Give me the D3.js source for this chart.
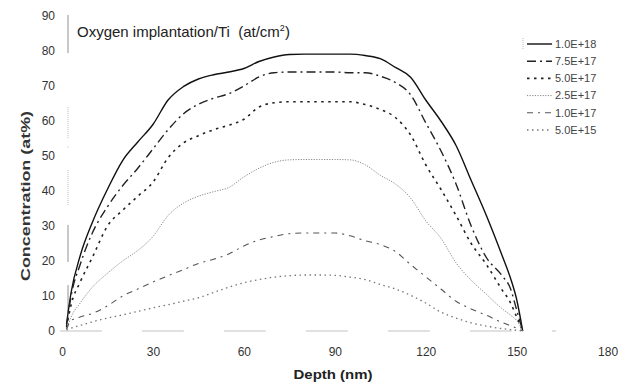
<!DOCTYPE html>
<html>
<head>
<meta charset="utf-8">
<script src="https://cdn.jsdelivr.net/npm/d3@7"></script>
<style>
  html, body { margin: 0; padding: 0; background: #fff; }
  svg { display: block; font-family: "Liberation Sans", Arial, sans-serif; }
</style>
</head>
<body>
<svg id="chart"></svg>
<script>
const width = 634;
const height = 387;

// --- Data ---
const depths = [1.5, 3, 6, 10, 15, 20, 25, 30, 35, 40, 45, 50, 55, 60, 65, 70, 75, 80, 85, 90,
  95, 100, 105, 110, 115, 120, 125, 130, 135, 140, 145, 148, 150, 152];

const doses = ["1.0E+18", "7.5E+17", "5.0E+17", "2.5E+17", "1.0E+17", "5.0E+15"];

const conc_1e18 = [2, 11, 21.5, 31, 40.5, 48.7, 54, 59, 66, 69.8, 72, 73.2, 74, 75, 77, 78.3, 79, 79.1, 79.1, 79.1,
  79.1, 78.7, 77.8, 75.3, 72.5, 66, 60, 53, 43, 33, 22, 15, 9, 0];
const conc_75e17 = [1.5, 10, 19, 28, 35.5, 41.5, 46.5, 52, 57.5, 62, 64.8, 66.5, 67.8, 70, 72.6, 73.8, 74, 74, 74, 74,
  73.8, 73.8, 72.8, 71, 67.5, 59.5, 51.5, 42, 30, 21, 16, 12, 6, 0];
const conc_5e17 = [1, 7.5, 14, 21, 30, 34.5, 38.5, 42.5, 49.5, 53.7, 55.8, 57.5, 58.8, 60.5, 64, 65.2, 65.5, 65.5, 65.5, 65.5,
  65.5, 64.7, 63.3, 61, 56, 47.5, 40.5, 33, 25, 19, 12, 8, 4, 0];
const conc_25e17 = [0.5, 4, 8, 12.5, 16.5, 20, 23, 27, 33, 36.5, 38.5, 39.8, 41, 44, 46.5, 48.2, 48.9, 49, 49, 49,
  48.9, 47.5, 44.5, 42, 38, 31.5, 26.5, 19.5, 14.5, 10.5, 6.5, 4.5, 3, 0];
const conc_1e17 = [0.5, 3, 4, 5, 7.2, 10, 12, 14, 15.8, 17.5, 19.3, 20.5, 22, 24.3, 26, 27, 27.8, 28, 28, 28,
  27.2, 25.8, 24.7, 22.7, 19, 15.5, 12, 8.5, 6.3, 4.5, 2.5, 1.5, 0.8, 0];
const conc_5e15 = [0.3, 0.8, 1.6, 2.6, 3.7, 4.6, 5.6, 6.6, 7.5, 8.5, 9.5, 11, 12.5, 13.8, 14.7, 15.4, 15.8, 16, 16, 15.9,
  15.4, 14.7, 13.3, 12, 10.2, 8, 5.4, 3.7, 2.3, 1.4, 0.7, 0.4, 0.2, 0];

const xTicks = [0, 30, 60, 90, 120, 150, 180];
const yTicks = [0, 10, 20, 30, 40, 50, 60, 70, 80, 90];

// faint broken strokes along the y axis in the scan (concentration ranges)
const yAxisStrokes = [[79.4, 90.3], [55.1, 64], [52.4, 52.8], [36, 46], [19.7, 30.3], [5.4, 13.1]];

const series = [
  { name: doses[0], values: conc_1e18, color: "#111", width: 1.4, dash: null },
  { name: doses[1], values: conc_75e17, color: "#222", width: 1.4, dash: "9,4,2,4" },
  { name: doses[2], values: conc_5e17, color: "#222", width: 1.6, dash: "2.5,4.5" },
  { name: doses[3], values: conc_25e17, color: "#888", width: 1, dash: "1.2,1.4" },
  { name: doses[4], values: conc_1e17, color: "#555", width: 1.1, dash: "6,5,2,5" },
  { name: doses[5], values: conc_5e15, color: "#777", width: 1.3, dash: "1.5,3.5" }
];

// --- Scales ---
const x = d3.scaleLinear().domain([0, 180]).range([62, 607.6]);
const y = d3.scaleLinear().domain([0, 90]).range([331, 16]);

const svg = d3.select("#chart")
  .attr("width", width)
  .attr("height", height)
  .attr("viewBox", [0, 0, width, height]);

// --- Axes (labels only) ---
const gx = svg.append("g")
  .attr("transform", `translate(0, ${y(0)})`)
  .call(d3.axisBottom(x).tickValues(xTicks).tickSize(0).tickPadding(16).tickFormat(d3.format("d")));
gx.select(".domain").remove();
gx.selectAll("text").attr("font-size", 12).attr("fill", "#333")
  .attr("font-family", "'Liberation Sans', Arial, sans-serif");

const gy = svg.append("g")
  .attr("transform", `translate(${x(0) - 1}, 0)`)
  .call(d3.axisLeft(y).tickValues(yTicks).tickSize(0).tickPadding(6).tickFormat(d3.format("d")));
gy.select(".domain").remove();
gy.selectAll("text").attr("font-size", 12).attr("fill", "#333")
  .attr("font-family", "'Liberation Sans', Arial, sans-serif");

// broken baseline at zero
svg.append("line")
  .attr("x1", x(-0.7)).attr("x2", x(163))
  .attr("y1", y(0)).attr("y2", y(0))
  .attr("stroke", "#aaa")
  .attr("stroke-width", 0.7)
  .attr("stroke-dasharray", "42,40");

// faint y-axis strokes
svg.append("g")
  .selectAll("line")
  .data(yAxisStrokes)
  .join("line")
  .attr("x1", x(0) + 6).attr("x2", x(0) + 6)
  .attr("y1", d => y(d[0])).attr("y2", d => y(d[1]))
  .attr("stroke", (d, i) => i === 0 || i >= 4 ? "#777" : "#aaa")
  .attr("stroke-width", 0.8)
  .attr("stroke-dasharray", (d, i) => i === 0 || i >= 4 ? null : "1,1");

// --- Curves ---
const line = d3.line()
  .x((d, i) => x(depths[i]))
  .y(d => y(d))
  .curve(d3.curveMonotoneX);

svg.append("g")
  .attr("fill", "none")
  .selectAll("path")
  .data(series)
  .join("path")
  .attr("d", d => line(d.values))
  .attr("stroke", d => d.color)
  .attr("stroke-width", d => d.width)
  .attr("stroke-dasharray", d => d.dash);

// --- Titles ---
const title = svg.append("text")
  .attr("x", 77)
  .attr("y", 37)
  .attr("font-size", 15)
  .attr("fill", "#222");
title.append("tspan").text("Oxygen implantation/Ti\u00a0\u00a0(at/cm");
title.append("tspan").attr("font-size", 9).attr("dy", -6).text("2");
title.append("tspan").attr("dy", 6).text(")");

svg.append("text")
  .attr("x", 333)
  .attr("y", 379)
  .attr("text-anchor", "middle")
  .attr("font-size", 13)
  .attr("font-weight", "bold")
  .attr("fill", "#222")
  .attr("textLength", 79)
  .attr("lengthAdjust", "spacingAndGlyphs")
  .text("Depth (nm)");

svg.append("text")
  .attr("transform", "translate(30, 196) rotate(-90)")
  .attr("text-anchor", "middle")
  .attr("font-size", 12.5)
  .attr("font-weight", "bold")
  .attr("fill", "#333")
  .attr("textLength", 170)
  .attr("lengthAdjust", "spacingAndGlyphs")
  .text("Concentration (at%)");

// --- Legend ---
const gLegend = svg.append("g").attr("transform", "translate(527, 44)");

gLegend.append("line")
  .attr("x1", -4).attr("x2", -4).attr("y1", -6).attr("y2", 6)
  .attr("stroke", "#aaa").attr("stroke-width", 0.8).attr("stroke-dasharray", "1,1");

const item = gLegend.selectAll("g.item")
  .data(series)
  .join("g")
  .attr("class", "item")
  .attr("transform", (d, i) => `translate(0, ${i * 17.2})`);

item.append("line")
  .attr("x1", 0).attr("x2", 25)
  .attr("stroke", d => d.color)
  .attr("stroke-width", d => d.width)
  .attr("stroke-dasharray", d => d.dash);

item.append("text")
  .attr("x", 28)
  .attr("dy", "0.35em")
  .attr("font-size", 11)
  .attr("fill", "#444")
  .text(d => d.name);
</script>
</body>
</html>
